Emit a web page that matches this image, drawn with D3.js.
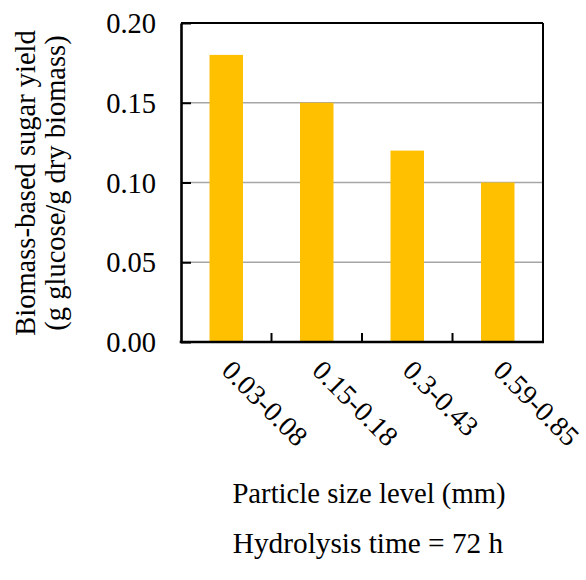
<!DOCTYPE html>
<html><head><meta charset="utf-8">
<script src="https://cdn.jsdelivr.net/npm/d3@7"></script>
<style>body{margin:0;background:#fff}</style>
</head><body><svg id="c" width="586" height="580"></svg>
<script>
const categories = ["0.03-0.08", "0.15-0.18", "0.3-0.43", "0.59-0.85"];
const yields = [0.18, 0.15, 0.12, 0.10];
const yTicks = [0, 0.05, 0.10, 0.15, 0.20];
const yTitle = ["Biomass-based sugar yield", "(g glucose/g dry biomass)"];
const xTitle = "Particle size level (mm)";
const note = "Hydrolysis time = 72 h";

const FONT = "Liberation Serif";
const L = 181, R = 543, T = 23, B = 342;
const svg = d3.select("#c");
const x = d3.scaleBand().domain(categories).range([L, R]).paddingInner(0.63).paddingOuter(0.315);
const y = d3.scaleLinear().domain([0, 0.20]).range([B, T]);

svg.append("g").selectAll("line").data(yTicks.filter(v => v > 0 && v < 0.20)).join("line")
  .attr("x1", L).attr("x2", R).attr("y1", d => y(d)).attr("y2", d => y(d))
  .attr("stroke", "#a6a6a6").attr("stroke-width", 1.6);

svg.append("g").selectAll("rect").data(categories).join("rect")
  .attr("x", d => x(d)).attr("width", x.bandwidth())
  .attr("y", (d, i) => y(yields[i])).attr("height", (d, i) => B - y(yields[i]))
  .attr("fill", "#FFC000");

svg.append("line").attr("x1", L).attr("x2", R).attr("y1", T).attr("y2", T).attr("stroke", "#000").attr("stroke-width", 2);
svg.append("line").attr("x1", R).attr("x2", R).attr("y1", T).attr("y2", B).attr("stroke", "#000").attr("stroke-width", 2);

const yAxis = d3.axisLeft(y).tickValues(yTicks).tickFormat(d3.format(".2f")).tickSizeInner(-10).tickSizeOuter(0).tickPadding(25);
const gy = svg.append("g").attr("transform", `translate(${L},0)`).call(yAxis);
gy.attr("font-family", null).attr("font-size", null);
gy.select(".domain").attr("stroke", "#000").attr("stroke-width", 2.6);
gy.selectAll(".tick line").attr("stroke", "#000").attr("stroke-width", 2);
gy.selectAll(".tick text").attr("fill", "#000").attr("dy", "0.34em").attr("x", -25)
  .style("font-family", FONT).style("font-size", "28.5px");

const step = x.step();
const boundaries = d3.range(categories.length + 1).map(i => L + i * step);
svg.append("g").selectAll("line").data(boundaries.slice(1, -1)).join("line")
  .attr("x1", d => d).attr("x2", d => d).attr("y1", B).attr("y2", B - 9)
  .attr("stroke", "#000").attr("stroke-width", 2);
svg.append("line").attr("x1", L - 1.3).attr("x2", R + 1).attr("y1", B).attr("y2", B).attr("stroke", "#000").attr("stroke-width", 2.6);

const txt = svg.append("g");
txt.selectAll("text.xl").data(categories).join("text").attr("class", "xl")
  .attr("transform", d => `translate(${x(d) + x.bandwidth() / 2 - 6},${B + 30}) rotate(45)`)
  .style("font-size", "28px")
  .text(d => d);

yTitle.forEach((t, i) => {
  txt.append("text").attr("transform", `translate(${35 + i * 30},183) rotate(-90)`)
    .attr("text-anchor", "middle").style("font-size", "28.5px").text(t);
});
txt.append("text").attr("x", 369).attr("y", 503).attr("text-anchor", "middle").style("font-size", "28.7px").text(xTitle);
txt.append("text").attr("x", 368).attr("y", 553).attr("text-anchor", "middle").style("font-size", "29.3px").text(note);
txt.selectAll("text").style("font-family", FONT).style("fill", "#000");
</script></body></html>
